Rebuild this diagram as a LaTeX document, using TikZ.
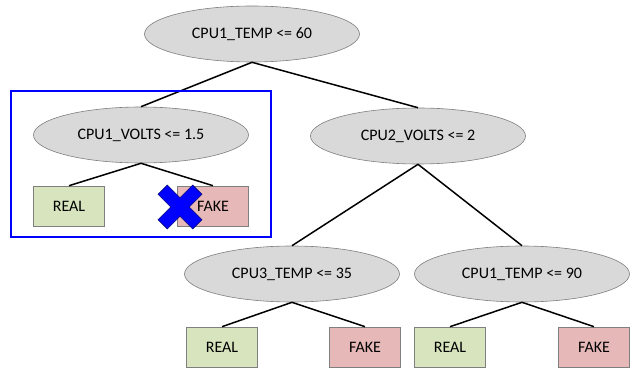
\documentclass[tikz,border=0pt]{standalone}
\usepackage{fontspec}
\setmainfont{Carlito}
\usetikzlibrary{shapes.geometric}
\definecolor{ellfill}{HTML}{D9D9D9}
\definecolor{ellline}{HTML}{7F7F7F}
\definecolor{realfill}{HTML}{D7E4BD}
\definecolor{fakefill}{HTML}{E6B9B8}
\begin{document}
\begin{tikzpicture}[x=1pt,y=-1pt,
  test/.style={ellipse,draw=ellline,fill=ellfill,line width=0.6pt,minimum width=215pt,minimum height=56pt,inner sep=0pt,font=\fontsize{16}{18}\selectfont},
  leaf/.style={rectangle,draw=ellline,line width=0.6pt,minimum width=71pt,minimum height=40pt,inner sep=0pt,font=\fontsize{16}{18}\selectfont},
  real/.style={leaf,fill=realfill},
  fake/.style={leaf,fill=fakefill},
  edge/.style={black,line width=1.5pt}]
\useasboundingbox (0,0) rectangle (632,371);
\node[test] (root) at (252,34) {CPU1\_TEMP <= 60};
\node[test] (l) at (141,135) {CPU1\_VOLTS <= 1.5};
\node[test] (r) at (418,136) {CPU2\_VOLTS <= 2};
\node[test] (rl) at (292,274) {CPU3\_TEMP <= 35};
\node[test] (rr) at (522,274) {CPU1\_TEMP <= 90};
\node[real] (lr) at (69,206) {REAL};
\node[fake] (lf) at (213,206) {FAKE};
\node[real] (rlr) at (222,347) {REAL};
\node[fake] (rlf) at (365,347) {FAKE};
\node[real] (rrr) at (450,347) {REAL};
\node[fake] (rrf) at (594,347) {FAKE};
\draw[edge] (root.south) -- (l.north);
\draw[edge] (root.south) -- (r.north);
\draw[edge] (l.south) -- (lr.north);
\draw[edge] (l.south) -- (lf.north);
\draw[edge] (r.south) -- (rl.north);
\draw[edge] (r.south) -- (rr.north);
\draw[edge] (rl.south) -- (rlr.north);
\draw[edge] (rl.south) -- (rlf.north);
\draw[edge] (rr.south) -- (rrr.north);
\draw[edge] (rr.south) -- (rrf.north);
\node[draw=blue,line width=2pt,minimum width=260pt,minimum height=146pt,inner sep=0pt] (frame) at (141,164) {};
\begin{scope}[shift={(180,207)},rotate=45]
\fill[blue,draw=blue!50!black,line width=0.6pt]
 (6.5,6.5) -- (24.5,6.5) -- (24.5,-6.5) -- (6.5,-6.5) -- (6.5,-24.5) -- (-6.5,-24.5) -- (-6.5,-6.5) -- (-24.5,-6.5) -- (-24.5,6.5) -- (-6.5,6.5) -- (-6.5,24.5) -- (6.5,24.5) -- cycle;
\end{scope}
\end{tikzpicture}
\end{document}
